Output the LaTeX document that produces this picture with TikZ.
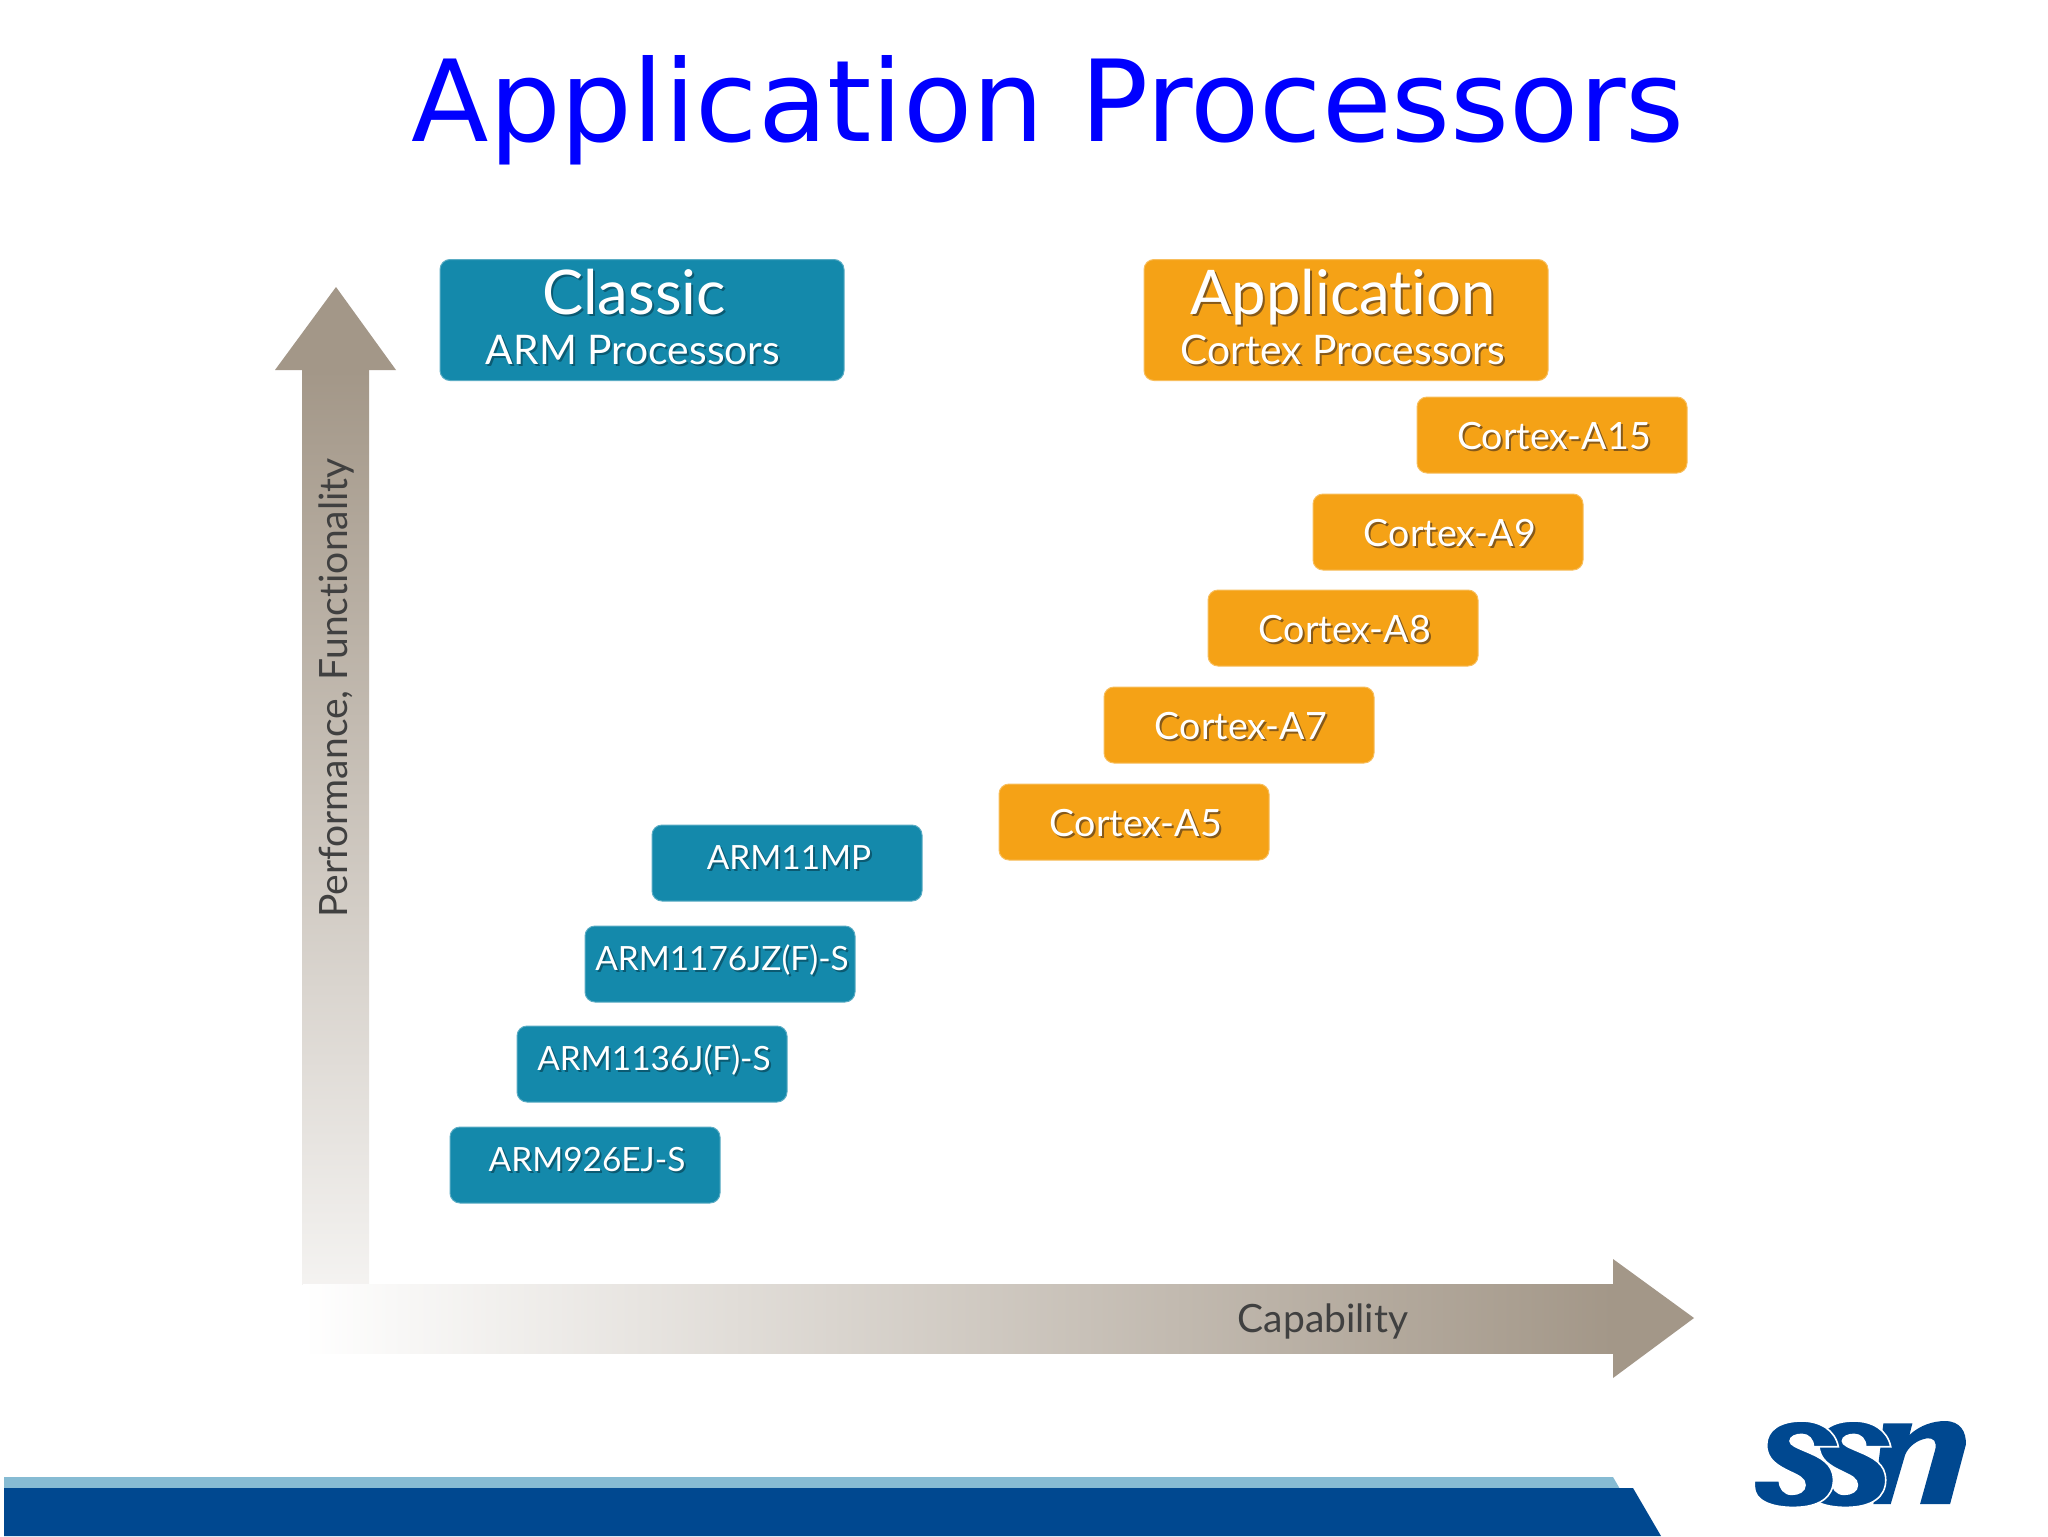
\documentclass[tikz,border=0pt]{standalone}
\usepackage{fontspec}
\setmainfont[Ligatures=NoCommon]{Lato}
\newfontfamily\titlefont{DejaVu Sans}
\definecolor{teal}{HTML}{1489AB}
\definecolor{amber}{HTML}{F5A216}
\definecolor{tealsh}{HTML}{0B5A72}
\definecolor{ambersh}{HTML}{85591A}
\definecolor{taupe}{HTML}{A39788}
\definecolor{navy}{HTML}{004890}
\definecolor{sky}{HTML}{86BBD3}
\newcommand{\shd}[2]{\leavevmode\rlap{\raisebox{-1pt}{\hspace{1pt}\textcolor{#1}{#2}}}\textcolor{white}{#2}}
% text placed on a box: fixed baseline below the box centre, slightly right of it
\newcommand{\lblc}[1]{\raisebox{-7.2pt}[0pt][0pt]{\makebox[0pt]{\hspace{2pt}\fontsize{18.8}{20}\selectfont\shd{ambersh}{#1}}}}
\newcommand{\lblt}[1]{\raisebox{-3.4pt}[0pt][0pt]{\makebox[0pt]{\hspace{2pt}\fontsize{16.7}{20}\selectfont\shd{tealsh}{#1}}}}
\tikzset{
  procbox/.style={rounded corners=5pt,minimum width=135pt,minimum height=38pt,inner sep=0pt,text=white,anchor=center},
  tealbox/.style={procbox,fill=teal,draw=teal!70!white,line width=.5pt},
  amberbox/.style={procbox,fill=amber,draw=amber!70!white,line width=.5pt},
  headbox/.style={minimum width=202pt,minimum height=60.5pt},
  headtext/.style={inner sep=0pt,anchor=base,font=\fontsize{30.8}{34}\selectfont},
  subtext/.style={inner sep=0pt,anchor=base,font=\fontsize{20.4}{24}\selectfont},
  axislabel/.style={text=black!75,font=\fontsize{19.5}{22}\selectfont,inner sep=0pt}
}
\begin{document}
\begin{tikzpicture}[x=0.5pt,y=-0.5pt]
\useasboundingbox (0,0) rectangle (2048,1536);
\fill[white] (0,0) rectangle (2048,1536);
\node[inner sep=0pt,text=blue,font=\titlefont\fontsize{56.6}{60}\selectfont] (title) at (1048,110) {Application Processors};
% axes
\shade[top color=taupe,bottom color=taupe!12] (302,370) rectangle (369,1284);
\fill[taupe] (336,287) -- (396,370) -- (275,370) -- cycle;
\shade[left color=white,right color=taupe] (303,1284) rectangle (1613,1353);
\fill[taupe] (1613,1259) -- (1694,1318) -- (1613,1378) -- cycle;
\node[axislabel,rotate=90] (perf) at (336,688) {Performance, Functionality};
\node[axislabel] (cap) at (1323,1321) {Capability};
% header boxes
\node[tealbox,headbox] (classic) at (642,320) {};
\node[amberbox,headbox] (appl) at (1346,320) {};
\node[headtext] (classicT) at (634,314) {\shd{tealsh}{Classic}};
\node[subtext] (classicS) at (633,364) {\shd{tealsh}{ARM Processors}};
\node[headtext] (applT) at (1343,314) {\shd{ambersh}{Application}};
\node[subtext] (applS) at (1343,364) {\shd{ambersh}{Cortex Processors}};
% processor boxes
\node[amberbox] (a15) at (1552,435) {\lblc{Cortex-A15}};
\node[amberbox] (a9) at (1448,532) {\lblc{Cortex-A9}};
\node[amberbox] (a8) at (1343,628) {\lblc{Cortex-A8}};
\node[amberbox] (a7) at (1239,725) {\lblc{Cortex-A7}};
\node[amberbox] (a5) at (1134,822) {\lblc{Cortex-A5}};
\node[tealbox] (mp) at (787,863) {\lblt{ARM11MP}};
\node[tealbox] (jz) at (720,964) {\lblt{ARM1176JZ(F)-S}};
\node[tealbox] (j) at (652,1064) {\lblt{ARM1136J(F)-S}};
\node[tealbox] (ej) at (585,1165) {\lblt{ARM926EJ-S}};
% footer band
\fill[sky] (4,1477) -- (1613,1477) -- (1620,1489) -- (4,1489) -- cycle;
\fill[navy] (4,1488) -- (1633,1488) -- (1661,1536) -- (4,1536) -- cycle;
% logo
\begin{scope}[shift={(1650,1380)},x=0.1667pt,y=-0.1667pt]
\fill[navy] (700,130) -- (787,130) -- (778,165) .. controls (810,135) and (850,123) .. (885,123) .. controls (930,123) and (950,155) .. (947,195) -- (900,372) -- (810,372) -- (855,210) .. controls (862,185) and (850,172) .. (830,175) .. controls (800,180) and (775,200) .. (765,225) -- (722,372) -- (670,372) -- cycle;
\def\esspath{(565,200) .. controls (555,150) and (510,123) .. (455,123) .. controls (390,123) and (350,150) .. (350,195) .. controls (350,240) and (385,258) .. (420,275) .. controls (445,287) and (465,295) .. (465,315) .. controls (465,333) and (447,343) .. (425,343) .. controls (403,343) and (388,325) .. (388,302) -- (313,302) -- (313,320) .. controls (313,360) and (360,382) .. (430,382) .. controls (510,382) and (550,350) .. (550,300) .. controls (550,250) and (510,232) .. (470,215) .. controls (440,202) and (420,195) .. (420,183) .. controls (420,170) and (438,163) .. (455,163) .. controls (475,163) and (490,178) .. (490,200) -- cycle}
\fill[navy,draw=white,line width=.8pt,shift={(157,0)}] \esspath;
\fill[navy,draw=white,line width=.8pt] \esspath;
\end{scope}
\end{tikzpicture}
\end{document}
